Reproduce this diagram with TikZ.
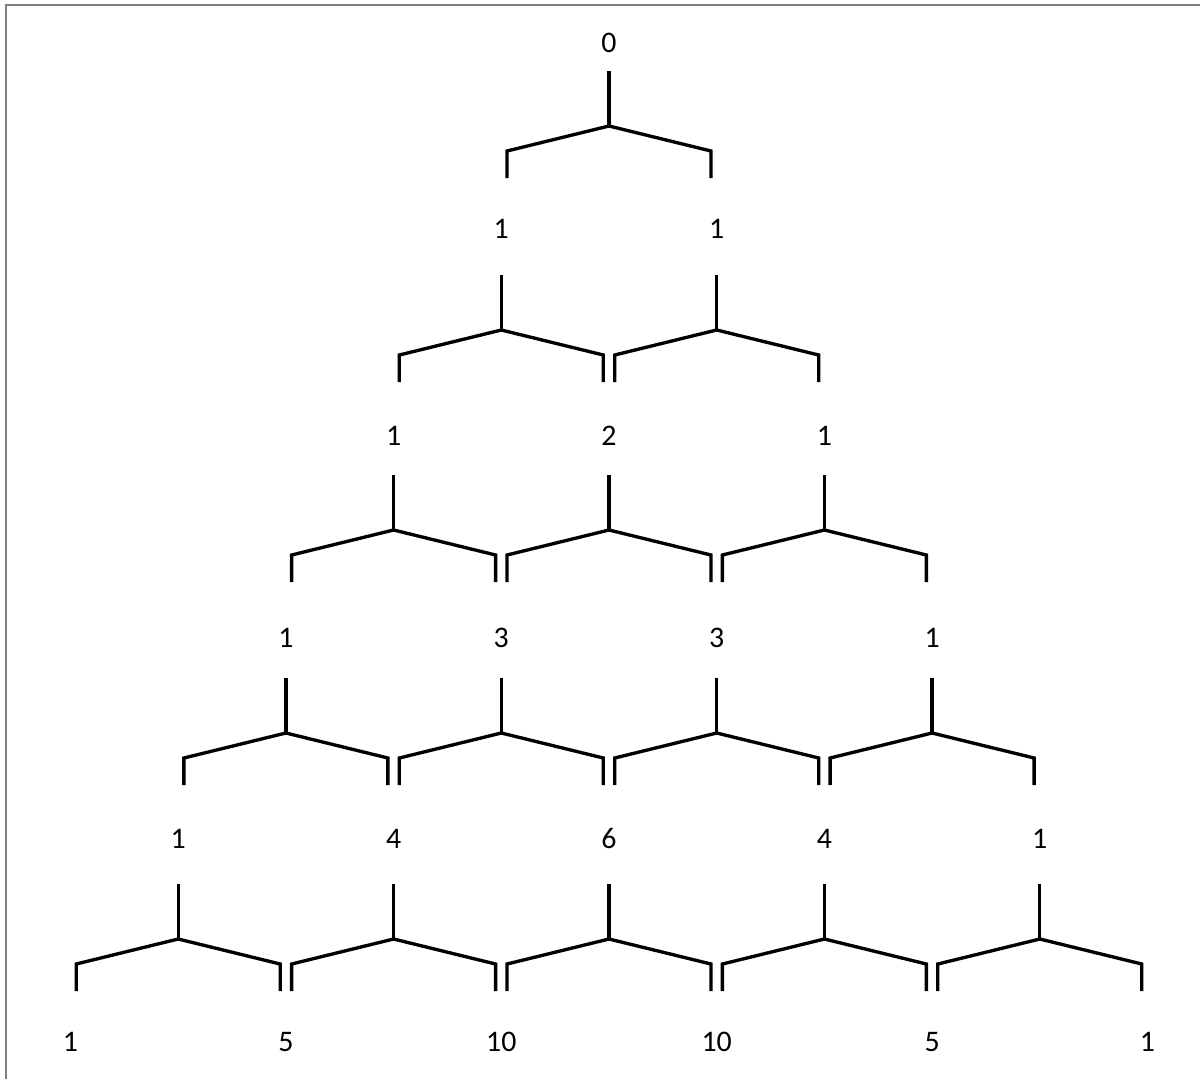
\documentclass[tikz,border=0pt]{standalone}
\usepackage{fontspec}
\setmainfont{Carlito}
\usetikzlibrary{calc}

\begin{document}
\begin{tikzpicture}[x=0.02cm, y=-0.02cm,
    bracket/.style={line width=1.9pt, black, line join=miter},
    num/.style={font=\fontsize{17}{20}\selectfont, inner sep=0pt}]
    \useasboundingbox (0,0) rectangle (1200,1079);
    % frame
    \draw[gray, line width=1.3pt] (6,1079) -- (6,5) -- (1200,5);

    % numbers, row by row
    \foreach \r/\y/\vals in {0/43/{0}, 1/229/{1,1}, 2/436/{1,2,1},
                             3/638/{1,3,3,1}, 4/839/{1,4,6,4,1},
                             5/1042/{1,5,10,10,5,1}} {
        \foreach \v [count=\c from 0] in \vals {
            \node[num] (n-\r-\c) at ({609+(2*\c-\r)*107.7}, \y) {\v};
        }
    }

    % brackets under each number
    \foreach \r/\d in {0/28, 1/46, 2/39, 3/40, 4/45} {
        \foreach \c in {0,...,\r} {
            \draw[bracket] ($(n-\r-\c)+(0,\d)$) -- ++(0,55) coordinate (j);
            \draw[bracket] (j) ++(-102,52) -- ++(0,-27) -- (j) -- ++(102,25) -- ++(0,27);
        }
    }
\end{tikzpicture}
\end{document}
